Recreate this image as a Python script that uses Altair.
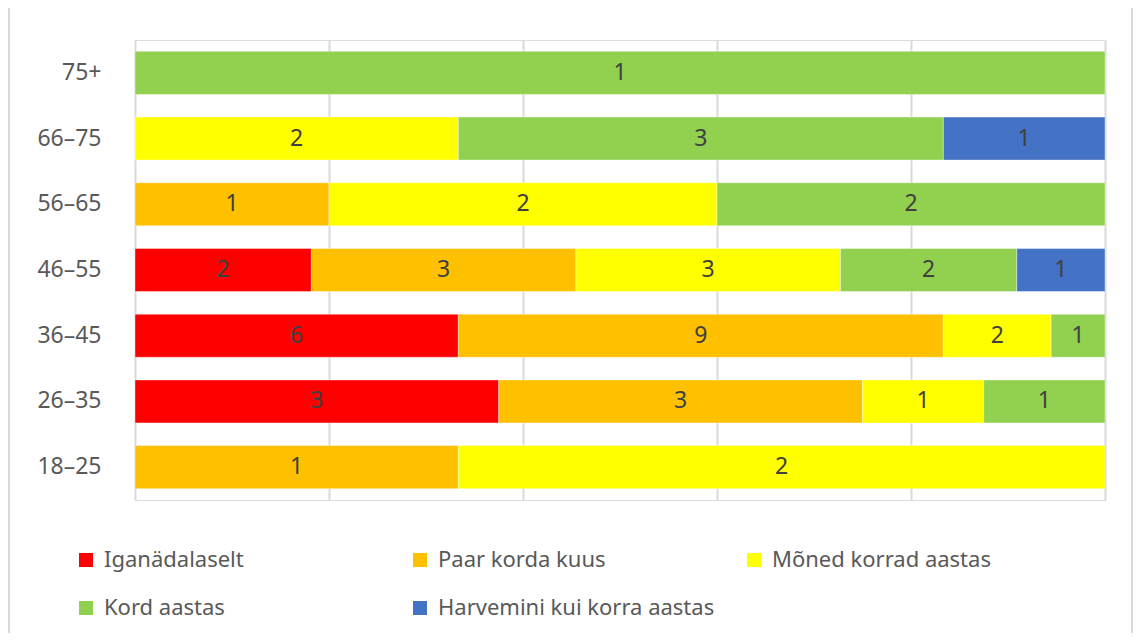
import altair as alt
import pandas as pd

categories = ["75+", "66–75", "56–65", "46–55", "36–45", "26–35", "18–25"]
series = ["Iganädalaselt", "Paar korda kuus", "Mõned korrad aastas", "Kord aastas", "Harvemini kui korra aastas"]
colors = ["#FF0000", "#FFC000", "#FFFF00", "#92D050", "#4472C4"]

iganadalaselt = [0, 0, 0, 2, 6, 3, 0]
paar_korda_kuus = [0, 0, 1, 3, 9, 3, 1]
moned_korrad = [0, 2, 2, 3, 2, 1, 2]
kord_aastas = [1, 3, 2, 2, 1, 1, 0]
harvemini = [0, 1, 0, 1, 0, 0, 0]

values = [iganadalaselt, paar_korda_kuus, moned_korrad, kord_aastas, harvemini]
rows = []
for si, (name, vals) in enumerate(zip(series, values)):
    for c, v in zip(categories, vals):
        if v > 0:
            rows.append({"cat": c, "series": name, "order": si, "count": v})
df = pd.DataFrame(rows)

FONT = "Noto Sans"

base = alt.Chart(df).transform_stack(
    stack="count", as_=["x0", "x1"], groupby=["cat"],
    sort=[alt.SortField("order")], offset="normalize"
).transform_calculate(mid="(datum.x0 + datum.x1) / 2")

ycat = alt.Y("cat:N", sort=categories, title=None,
             scale=alt.Scale(paddingInner=0.345, paddingOuter=0.1725),
             axis=alt.Axis(labelFont=FONT, labelFontSize=23, labelColor="#595959",
                           ticks=False, domain=False, grid=False, labelPadding=34))

bars = base.mark_bar(stroke="white", strokeWidth=0.4).encode(
    x=alt.X("x0:Q", scale=alt.Scale(domain=[0, 1], nice=False), title=None,
            axis=alt.Axis(values=[0, 0.2, 0.4, 0.6, 0.8, 1.0], labels=False, ticks=False,
                          domain=False, grid=True, gridColor="#d9d9d9", gridWidth=2)),
    x2="x1:Q",
    y=ycat,
    color=alt.Color("series:N", scale=alt.Scale(domain=series, range=colors),
                    legend=alt.Legend(title=None, orient="none", legendX=-60, legendY=509,
                                      direction="horizontal", columns=3, gridAlign="all",
                                      columnPadding=28, rowPadding=26,
                                      symbolType="square", symbolSize=196, symbolStrokeWidth=0,
                                      labelFont=FONT, labelFontSize=22, labelColor="#595959",
                                      labelLimit=400, symbolOffset=0, labelOffset=7)),
    order=alt.Order("order:Q"),
)

labels = base.mark_text(font=FONT, fontSize=23, color="#404040").encode(
    x="mid:Q",
    y=alt.Y("cat:N", sort=categories),
    text="count:Q",
)

frame = alt.Chart(pd.DataFrame({"a": [0]})).mark_rect(
    fill="transparent", stroke="#d9d9d9", strokeWidth=2
).encode(x=alt.value(-126), x2=alt.value(997), y=alt.value(-33), y2=alt.value(600))

chart = alt.layer(frame, bars, labels).properties(
    width=970, height=460,
    autosize=alt.AutoSizeParams(type="none"),
    padding={"left": 127, "top": 32, "right": 28, "bottom": 133},
).configure_view(stroke=None).configure(background="white")

chart.save("out.html", embed_options={"renderer": "svg", "actions": False})
